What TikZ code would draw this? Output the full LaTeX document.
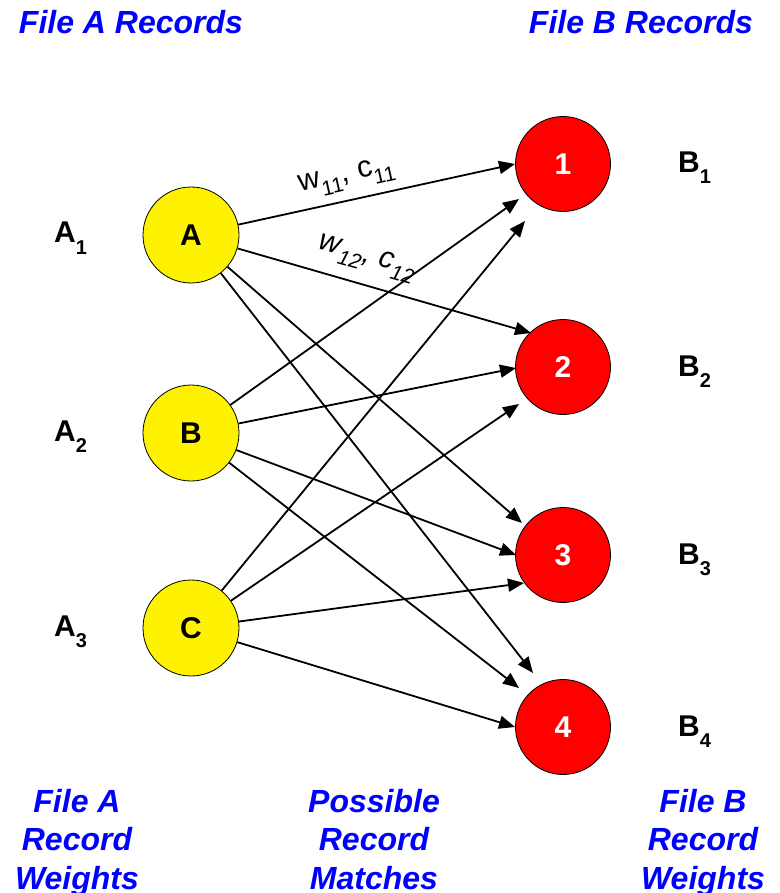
\documentclass[tikz,border=0pt]{standalone}
\usepackage{fontspec}
\setmainfont{Liberation Sans}
\usetikzlibrary{arrows.meta}
\definecolor{tblue}{RGB}{0,0,255}
\newcommand\lsub[1]{\raisebox{-11pt}{\fontsize{20}{20}\selectfont #1}}
\newcommand\wsub[1]{\raisebox{-9pt}{\fontsize{21}{21}\selectfont #1}}
\begin{document}
\begin{tikzpicture}[x=1pt,y=-1pt,
  src/.style={circle, draw=black, line width=0.8pt, fill=yellow, minimum size=96pt, inner sep=0pt, font=\fontsize{30}{30}\selectfont\bfseries},
  dst/.style={circle, draw=black, line width=0.8pt, fill=red, minimum size=95pt, inner sep=0pt, text=white, font=\fontsize{30}{30}\selectfont\bfseries},
  lbl/.style={font=\fontsize{30}{30}\selectfont\bfseries, inner sep=0pt, anchor=base west},
  ttl/.style={text=tblue, font=\fontsize{32}{38.5}\selectfont\bfseries\itshape, align=center, inner sep=0pt},
  edge/.style={line width=1.8pt, -{Triangle[length=16pt,width=13pt]}},
  wc/.style={font=\fontsize{30}{30}\selectfont, inner sep=0pt}
]
\useasboundingbox (0,0) rectangle (779,893);

% titles
\node[ttl] (tA) at (131,22) {File A Records};
\node[ttl] (tB) at (641,22) {File B Records};
\node[ttl, anchor=north] (fA) at (77,789) {File A\\Record\\Weights};
\node[ttl, anchor=north] (pm) at (374,789) {Possible\\Record\\Matches};
\node[ttl, anchor=north] (fB) at (703,789) {File B\\Record\\Weights};

% nodes
\node[src] (A) at (191,235) {A};
\node[src] (B) at (191,433) {B};
\node[src] (C) at (191,628) {C};
\node[dst] (n1) at (563,164) {1};
\node[dst] (n2) at (563,367) {2};
\node[dst] (n3) at (563,555) {3};
\node[dst] (n4) at (563,727) {4};

% side labels
\node[lbl] (a1) at (54,243) {A\lsub{1}};
\node[lbl] (a2) at (54,441) {A\lsub{2}};
\node[lbl] (a3) at (54,636) {A\lsub{3}};
\node[lbl] (b1) at (678,173) {B\lsub{1}};
\node[lbl] (b2) at (678,376.5) {B\lsub{2}};
\node[lbl] (b3) at (678,564.5) {B\lsub{3}};
\node[lbl] (b4) at (678,736.5) {B\lsub{4}};

% arrow tips
\coordinate (t1A) at (515,164);
\coordinate (t1B) at (519,199);
\coordinate (t1C) at (525,221);
\coordinate (t2A) at (531,333);
\coordinate (t2B) at (516,368);
\coordinate (t2C) at (519,404);
\coordinate (t3A) at (522,523);
\coordinate (t3B) at (516,555);
\coordinate (t3C) at (524,583);
\coordinate (t4A) at (533,673);
\coordinate (t4B) at (519,688);
\coordinate (t4C) at (515,727);

\foreach \s in {A,B,C}{
  \foreach \t in {1,2,3,4}{
    \draw[edge] (\s) -- (t\t\s);
  }
}

% edge labels
\node[wc, rotate=12.4] (w1) at (347,178) {w\wsub{11}, c\wsub{11}};
\node[wc, rotate=-16] (w2) at (367,259) {\itshape w\wsub{12}, c\wsub{12}};
\end{tikzpicture}
\end{document}
